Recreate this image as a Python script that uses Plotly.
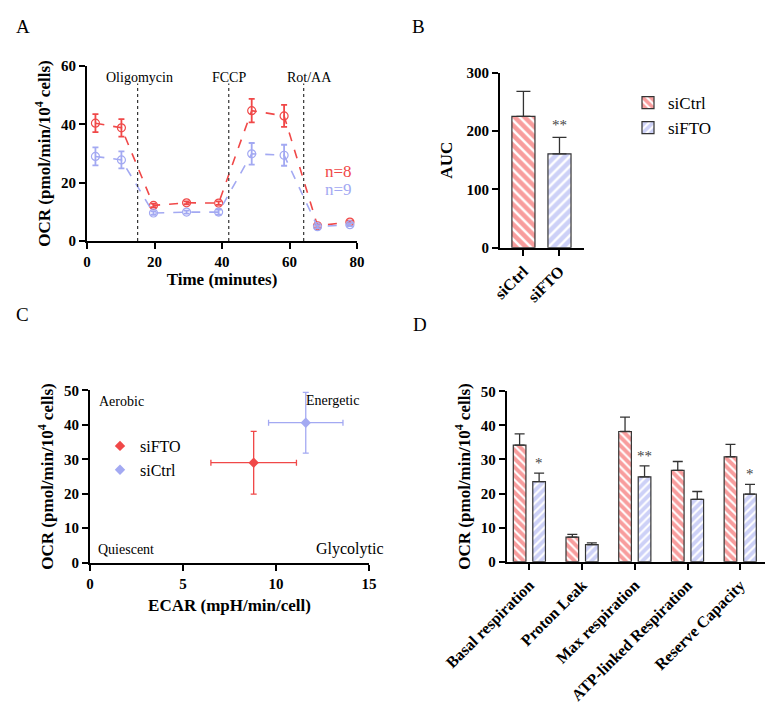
import plotly.graph_objects as go

# ---------------- data ----------------
# Panel A: OCR time course
time_min = [2.5, 10.2, 19.7, 29.5, 39.0, 48.8, 58.4, 68.3, 77.9]
ctrl_ocr = [40.4, 38.8, 12.2, 13.1, 13.0, 44.7, 42.9, 5.2, 6.5]
ctrl_sd = [3.1, 3.0, 0.6, 0.5, 0.6, 4.0, 3.8, 0.5, 0.5]
fto_ocr = [29.0, 27.8, 9.6, 9.9, 9.9, 29.9, 29.4, 4.9, 5.6]
fto_sd = [3.1, 2.9, 0.6, 0.5, 0.9, 3.7, 3.6, 0.5, 0.5]
inject_times = [15.0, 42.0, 64.2]
inject_labels = ["Oligomycin", "FCCP", "Rot/AA"]
inject_label_x = [15.5, 42.0, 66.0]
n_labels = ["n=8", "n=9"]

# Panel B: AUC
auc_groups = ["siCtrl", "siFTO"]
auc_vals = [225, 161]
auc_sd = [43, 28]
auc_sig = ["", "**"]

# Panel C: energy map
map_groups = ["siFTO", "siCtrl"]
ecar_vals = [8.8, 11.6]
ecar_sd = [2.3, 2.0]
map_ocr = [29.0, 40.6]
map_ocr_sd = [9.1, 8.8]
quadrant_labels = ["Aerobic", "Energetic", "Quiescent", "Glycolytic"]

# Panel D: respiration parameters
params = ["Basal respiration", "Proton Leak", "Max respiration",
          "ATP-linked Respiration", "Reserve Capacity"]
d_ctrl = [34.2, 7.2, 38.2, 26.8, 30.8]
d_ctrl_sd = [3.3, 0.8, 4.2, 2.6, 3.6]
d_fto = [23.5, 5.0, 24.9, 18.3, 19.8]
d_fto_sd = [2.5, 0.5, 3.2, 2.3, 2.9]
d_sig = ["*", "", "**", "", "*"]

# ---------------- styles ----------------
RED = "#F04848"
BLUE = "#A3A9F2"
RED_BAR = "#F23C3C"
BLUE_BAR = "#9CA3F0"
EDGE = "#333333"
FONT = "Liberation Serif, Times New Roman, serif"
W, H = 767, 711

fig = go.Figure()

# ---- Panel A ----
for y, sd, col in [(ctrl_ocr, ctrl_sd, RED), (fto_ocr, fto_sd, BLUE)]:
    fig.add_trace(go.Scatter(
        x=time_min, y=y, mode="lines+markers",
        line=dict(color=col, width=1.6, dash="dash"),
        marker=dict(symbol="circle-open", size=8, color=col, line=dict(width=1.2, color=col)),
        error_y=dict(type="data", array=sd, color=col, thickness=1.8, width=3),
        showlegend=False, xaxis="x", yaxis="y"))

# ---- Panel B ----
for i, (shape, colr) in enumerate([("\\", RED_BAR), ("/", BLUE_BAR)]):
    fig.add_trace(go.Bar(
        x=[auc_groups[i]], y=[auc_vals[i]], name=auc_groups[i],
        marker=dict(color="white", line=dict(color=EDGE, width=1.2),
                    pattern=dict(shape=shape, fgcolor=colr, bgcolor="white", size=7, solidity=0.65)),
        error_y=dict(type="data", symmetric=False, array=[auc_sd[i]], arrayminus=[0],
                     color=EDGE, thickness=1.3, width=7),
        width=0.64, xaxis="x2", yaxis="y2", legend="legend"))

# ---- Panel C ----
for i, col in enumerate([RED, BLUE]):
    fig.add_trace(go.Scatter(
        x=[ecar_vals[i]], y=[map_ocr[i]], mode="markers", name=map_groups[i],
        marker=dict(symbol="diamond", size=8, color=col),
        error_x=dict(type="data", array=[ecar_sd[i]], color=col, thickness=1.3, width=3),
        error_y=dict(type="data", array=[map_ocr_sd[i]], color=col, thickness=1.3, width=3),
        xaxis="x3", yaxis="y3", legend="legend2"))

# ---- Panel D ----
bw = 0.24
for vals, sd, colr, shape, off in [(d_ctrl, d_ctrl_sd, RED_BAR, "\\", -0.185 - bw / 2),
                                   (d_fto, d_fto_sd, BLUE_BAR, "/", 0.185 - bw / 2)]:
    fig.add_trace(go.Bar(
        x=list(range(len(params))), y=vals, width=bw, offset=off,
        marker=dict(color="white", line=dict(color=EDGE, width=1.2),
                    pattern=dict(shape=shape, fgcolor=colr, bgcolor="white", size=6, solidity=0.65)),
        error_y=dict(type="data", symmetric=False, array=sd, arrayminus=[0] * len(sd),
                     color=EDGE, thickness=1.3, width=5),
        showlegend=False, xaxis="x4", yaxis="y4"))

# ---------------- layout ----------------
tickfont = dict(family=FONT, size=15, color="black", weight="bold")
titlefont = dict(family=FONT, size=17, color="black", weight="bold")


def ax(**kw):
    base = dict(showline=True, linecolor="black", linewidth=2, ticks="outside",
                ticklen=6, tickwidth=2, tickcolor="black", showgrid=False,
                zeroline=False, tickfont=tickfont, mirror=False, automargin=False)
    base.update(kw)
    return base


def pxx(p):
    return p / W


def pxy(p):
    return 1 - p / H


ocr_title = "OCR (pmol/min/10<sup>4</sup> cells)"

fig.update_layout(
    width=W, height=H, margin=dict(l=0, r=0, t=0, b=0, autoexpand=False),
    paper_bgcolor="white", plot_bgcolor="white",
    font=dict(family=FONT, color="black"),
    xaxis=ax(domain=[pxx(87), pxx(357)], range=[0, 80], tickvals=[0, 20, 40, 60, 80],
             anchor="y", title=dict(text="Time (minutes)", font=titlefont, standoff=4)),
    yaxis=ax(domain=[pxy(241), pxy(66)], range=[0, 60], tickvals=[0, 20, 40, 60],
             anchor="x", title=dict(text=ocr_title, font=titlefont, standoff=6)),
    xaxis2=ax(domain=[pxx(500), pxx(584)], range=[-0.65, 1.68], type="category",
              anchor="y2", tickangle=-45,
              tickfont=dict(family=FONT, size=16, color="black", weight="bold")),
    yaxis2=ax(domain=[pxy(247.7), pxy(72.7)], range=[0, 300], tickvals=[0, 100, 200, 300],
              anchor="x2", title=dict(text="AUC", font=titlefont, standoff=10)),
    xaxis3=ax(domain=[pxx(90), pxx(369)], range=[0, 15], tickvals=[0, 5, 10, 15],
              anchor="y3", title=dict(text="ECAR (mpH/min/cell)", font=titlefont, standoff=8)),
    yaxis3=ax(domain=[pxy(562.7), pxy(390.3)], range=[0, 50], tickvals=[0, 10, 20, 30, 40, 50],
              anchor="x3", title=dict(text=ocr_title, font=titlefont, standoff=6)),
    xaxis4=ax(domain=[pxx(506.7), pxx(765)], range=[-0.43, 4.47],
              tickvals=list(range(len(params))), ticktext=params, tickangle=-45,
              anchor="y4", tickfont=dict(family=FONT, size=16, color="black", weight="bold")),
    yaxis4=ax(domain=[pxy(561.7), pxy(391.3)], range=[0, 50], tickvals=[0, 10, 20, 30, 40, 50],
              anchor="x4", title=dict(text=ocr_title, font=titlefont, standoff=6)),
    legend=dict(x=pxx(628), y=pxy(85), xanchor="left", yanchor="top",
                font=dict(family=FONT, size=17, color="black"),
                bgcolor="rgba(0,0,0,0)", tracegroupgap=4),
    legend2=dict(x=pxx(100), y=pxy(429), xanchor="left", yanchor="top",
                 font=dict(family=FONT, size=16, color="black"),
                 bgcolor="rgba(0,0,0,0)"),
    showlegend=True,
)

shapes = []
annotations = []

# injection lines in A
for t in inject_times:
    shapes.append(dict(type="line", xref="x", yref="y", x0=t, x1=t, y0=0, y1=54,
                       line=dict(color="#333333", width=1.2, dash="dot")))
for lbl, lx in zip(inject_labels, inject_label_x):
    annotations.append(dict(xref="x", yref="y", x=lx, y=56, text=lbl, showarrow=False,
                            font=dict(family=FONT, size=14, color="black")))
for lbl, yy, col in zip(n_labels, [23.8, 17.8], [RED, BLUE]):
    annotations.append(dict(xref="x", yref="y", x=74.4, y=yy, text=lbl, showarrow=False,
                            font=dict(family=FONT, size=17, color=col)))

# significance in B
for g, v, s, sig in zip(auc_groups, auc_vals, auc_sd, auc_sig):
    if sig:
        annotations.append(dict(xref="x2", yref="y2", x=g, y=v + s, text=sig, showarrow=False,
                                yanchor="bottom", yshift=2,
                                font=dict(family=FONT, size=15, color="#444444")))

# quadrant labels in C (x as fraction of the axis domain)
quad_pos = [(0.025, 46.8, "left", 14), (0.97, 47.1, "right", 14),
            (0.02, 3.8, "left", 14), (1.06, 4.0, "right", 16)]
for lbl, (qx, qy, anc, fs) in zip(quadrant_labels, quad_pos):
    annotations.append(dict(xref="x3 domain", yref="y3", x=qx, y=qy, text=lbl, showarrow=False,
                            xanchor=anc, font=dict(family=FONT, size=fs, color="black")))

# significance in D
for i, (v, s, sig) in enumerate(zip(d_fto, d_fto_sd, d_sig)):
    if sig:
        annotations.append(dict(xref="x4", yref="y4", x=i + 0.185, y=v + s, text=sig,
                                showarrow=False, yanchor="bottom", yshift=0,
                                font=dict(family=FONT, size=15, color="#444444")))

# panel letters
for letter, lx, ly in [("A", 14, 14), ("B", 418, 14), ("C", 14, 314), ("D", 420, 324)]:
    annotations.append(dict(xref="paper", yref="paper", x=pxx(lx), y=pxy(ly), text=letter,
                            showarrow=False, font=dict(family=FONT, size=19, color="black")))

fig.update_layout(shapes=shapes, annotations=annotations)

fig.write_html("out.html")
